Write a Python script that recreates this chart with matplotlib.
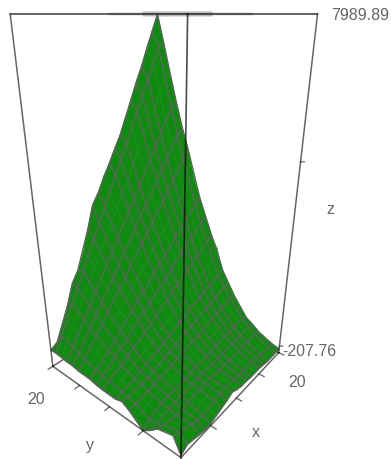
import numpy as np
import matplotlib
matplotlib.use("Agg")
import matplotlib.pyplot as plt

plt.rcParams['font.family'] = ['Liberation Sans', 'DejaVu Sans']

x_values = list(range(21))
y_values = list(range(21))
mesh_lines = [0, 1, 3, 4, 5, 7, 8, 9, 11, 12, 13, 15, 16, 17, 19, 20]
z_min = -207.76
z_max = 7989.89
x_ticks = [5, 10, 15, 20]
y_ticks = [5, 10, 15, 20]
z_ticks = [0, 5000]

# one row per y, one column per x, read and estimated from the picture
z_y00 = [-150,-30,-60,-120,-150,-150,-60,-30,30,120,30,0,0,-30,-30,-30,-60,-90,-90,-90,-90]
z_y01 = [240,150,90,30,-20,-60,-20,50,110,150,110,80,60,50,40,30,20,10,10,0,-30]
z_y02 = [210,130,60,20,-10,-30,30,80,120,110,120,110,100,80,70,60,60,50,60,60,40]
z_y03 = [130,70,40,10,20,60,90,130,150,160,140,110,140,130,150,170,180,190,170,190,150]
z_y04 = [-60,-30,10,40,70,120,130,140,180,190,210,190,230,240,260,290,280,310,320,340,300]
z_y05 = [-207.76,-60,40,90,130,160,180,190,220,260,280,310,330,360,400,420,430,460,480,500,430]
z_y06 = [-40,30,90,130,170,220,250,290,320,350,390,420,460,490,530,560,590,640,660,700,680]
z_y07 = [100,120,150,180,230,270,330,360,410,460,520,560,600,650,700,760,800,860,900,960,950]
z_y08 = [210,190,190,240,300,340,400,470,530,590,650,720,780,850,920,980,1040,1110,1170,1240,1270]
z_y09 = [150,190,220,290,360,430,500,590,670,750,830,910,990,1080,1150,1230,1310,1390,1470,1540,1590]
z_y10 = [150,220,270,340,440,530,630,710,820,910,1020,1110,1220,1310,1410,1520,1610,1710,1810,1900,2170]
z_y11 = [160,270,370,440,570,680,810,900,1040,1150,1300,1410,1550,1650,1790,1890,2040,2140,2280,2380,2530]
z_y12 = [180,310,430,580,720,850,1010,1150,1290,1460,1580,1740,1850,2030,2150,2320,2430,2600,2720,2890,3000]
z_y13 = [220,360,480,650,820,1000,1190,1340,1530,1680,1870,2010,2210,2350,2540,2690,2880,3030,3220,3370,3480]
z_y14 = [230,400,560,760,960,1170,1350,1580,1750,1970,2140,2360,2530,2750,2930,3150,3320,3540,3710,3930,4010]
z_y15 = [230,450,640,870,1100,1340,1560,1810,2010,2260,2460,2710,2910,3160,3370,3610,3810,4060,4260,4510,4710]
z_y16 = [270,500,740,1010,1270,1520,1800,2030,2310,2550,2830,3060,3340,3570,3850,4090,4360,4600,4870,5110,5270]
z_y17 = [270,570,840,1150,1430,1740,2010,2320,2590,2900,3170,3480,3750,4050,4330,4630,4910,5210,5480,5790,5900]
z_y18 = [310,630,960,1290,1610,1950,2260,2600,2910,3250,3560,3890,4210,4540,4850,5190,5500,5840,6150,6490,6560]
z_y19 = [310,700,1070,1440,1790,2170,2520,2890,3240,3620,3960,4340,4680,5060,5410,5780,6130,6510,6850,7230,7300]
z_y20 = [296,420,830,1280,1820,2110,2520,3090,3680,3940,4320,4590,4920,5230,5640,6020,6430,6790,7230,7600,7989.89]

Z = np.array([z_y00, z_y01, z_y02, z_y03, z_y04, z_y05, z_y06, z_y07, z_y08, z_y09, z_y10,
              z_y11, z_y12, z_y13, z_y14, z_y15, z_y16, z_y17, z_y18, z_y19, z_y20], dtype=float)
X, Y = np.meshgrid(x_values, y_values)

W, H = 391, 460
fig = plt.figure(figsize=(W / 100, H / 100), dpi=100, facecolor='white')

# Square 3D axes 1000 px wide, placed so the box centre lands on pixel (168, 214)
side = 1000
cx, cy = 168, 214
frac = 0.95 / (0.95 + 0.9)
ax = fig.add_axes([(cx - frac * side) / W, ((H - cy) - frac * side) / H, side / W, side / H],
                  projection='3d')
ax.set_axis_off()
ax.computed_zorder = False
ax.set_proj_type('persp', focal_length=0.08669)
ax.view_init(elev=23.0, azim=-140.1)
ax.set_box_aspect((0.3417, 0.3417, 0.6779), zoom=0.4369)
ax.set_xlim(0, 20, view_margin=0)
ax.set_ylim(0, 20, view_margin=0)
ax.set_zlim(z_min, z_max, view_margin=0)

box = dict(color='black', alpha=0.6, lw=1.1)

# floor edges at the back, the surface hides most of them
ax.plot([20, 20], [0, 20], [z_min, z_min], zorder=1, **box)
ax.plot([0, 20], [20, 20], [z_min, z_min], zorder=1, **box)

ax.plot_surface(X, Y, Z, rstride=1, cstride=1, color='#118a11', edgecolor='#118a11',
                linewidth=0.3, shade=False, antialiased=True, zorder=2)
mesh = np.ix_(mesh_lines, mesh_lines)
ax.plot_wireframe(X[mesh], Y[mesh], Z[mesh], rstride=1, cstride=1, color='#5e625e',
                  linewidth=0.95, zorder=2.5)

# top rectangle with its pale sliver
ax.plot([12, 20], [20, 7], [z_max, z_max], color='#d4d4d4', lw=2.2, zorder=1, solid_capstyle='butt')
ax.plot([17.4, 20], [20, 12], [z_max, z_max], color='#b8b8b8', lw=3.6, zorder=1, solid_capstyle='butt')
ax.plot([0, 20, 20, 0, 0], [0, 0, 20, 20, 0], [z_max] * 5, zorder=3, **box)
# verticals
ax.plot([20, 20], [0, 0], [z_min, z_max], zorder=3, **box)
ax.plot([0, 0], [20, 20], [z_min, z_max], zorder=3, **box)
ax.plot([0, 0], [0, 0], [z_min, z_max], color='black', alpha=0.7, lw=1.2, zorder=4)
# floor edges in front
ax.plot([0, 20], [0, 0], [z_min, z_min], zorder=3, **box)
ax.plot([0, 0], [0, 20], [z_min, z_min], zorder=3, **box)

tick = dict(color='black', alpha=0.6, lw=0.9, zorder=3)
for v in x_ticks:
    ax.plot([v, v], [0, -0.7], [z_min, z_min], **tick)
for v in y_ticks:
    ax.plot([0, -0.7], [v, v], [z_min, z_min], **tick)
for v in z_ticks:
    ax.plot([20, 20.3], [0, -0.3], [v, v], **tick)

def label(px, py, s, **kw):
    fig.text(px / W, 1 - py / H, s, color='#666666', fontsize=11.5, va='center', **kw)

label(331, 15, '7989.89', ha='left')
label(282, 352, '-207.76', ha='left')
label(297, 383, '20', ha='center')
label(36, 400, '20', ha='center')
label(256, 433, 'x', ha='center')
label(90, 446, 'y', ha='center')
label(330, 210, 'z', ha='center')

fig.savefig('out.png', dpi=100, facecolor='white')
